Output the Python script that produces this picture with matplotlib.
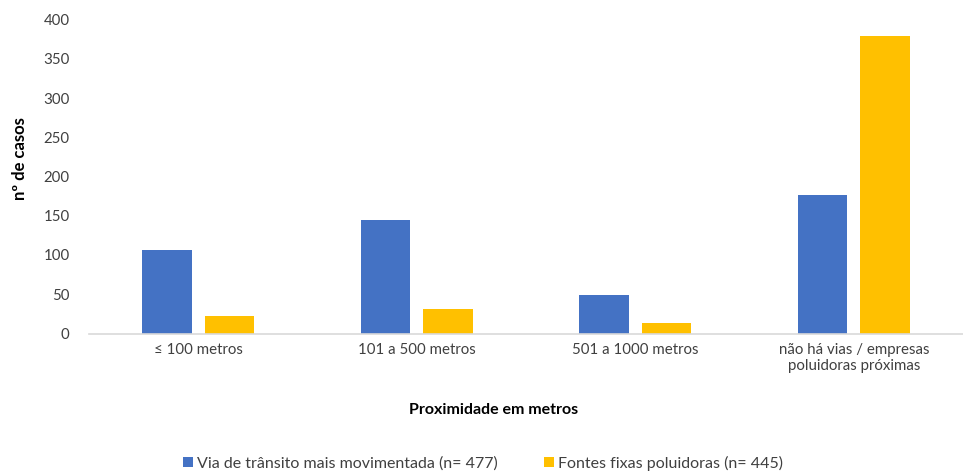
import matplotlib
matplotlib.use("Agg")
import matplotlib.pyplot as plt
import numpy as np

categories = ["≤ 100 metros", "101 a 500 metros", "501 a 1000 metros",
              "não há vias / empresas\npoluidoras próximas"]
via = [107, 145, 49, 176]
fontes = [22, 31, 13, 379]
series_names = ["Via de trânsito mais movimentada (n= 477)", "Fontes fixas poluidoras (n= 445)"]
yticks = [0, 50, 100, 150, 200, 250, 300, 350, 400]

plt.rcParams['font.family'] = ['Lato', 'DejaVu Sans']

fig = plt.figure(figsize=(9.63, 4.71), dpi=100)
ax = fig.add_axes([89 / 963, 1 - 333.5 / 471, 874 / 963, 314 / 471])

x = np.arange(len(categories))
w = 0.225
off = 0.143
ax.bar(x - off, via, w, color='#4472C4', label=series_names[0])
ax.bar(x + off, fontes, w, color='#FFC000', label=series_names[1])

ax.set_xlim(-0.5, len(categories) - 0.5)
ax.set_ylim(0, 400)
ax.set_yticks(yticks)
ax.set_xticks(x)
ax.set_xticklabels(categories, fontsize=10.8, color='#404040', linespacing=1.15)
ax.tick_params(axis='y', labelsize=10.8, colors='#404040', length=0, pad=14)
ax.tick_params(axis='x', length=0, pad=7)
for s in ['top', 'right', 'left']:
    ax.spines[s].set_visible(False)
ax.spines['bottom'].set_color('#D9D9D9')
ax.spines['bottom'].set_linewidth(1.2)

fig.text(20 / 963, 1 - 159 / 471, "nº de casos", fontsize=12, fontweight='bold',
         rotation=90, ha='center', va='center')
fig.text(494 / 963, 1 - 410 / 471, "Proximidade em metros", fontsize=11.5, fontweight='bold',
         ha='center', va='center')

fig.legend(loc='center', bbox_to_anchor=(483 / 963, 1 - 463 / 471), ncol=2, frameon=False,
           fontsize=11.5, handlelength=0.6, handleheight=0.6, handletextpad=0.25,
           columnspacing=2.9, labelcolor='#404040')

fig.savefig("out.png", dpi=100)
